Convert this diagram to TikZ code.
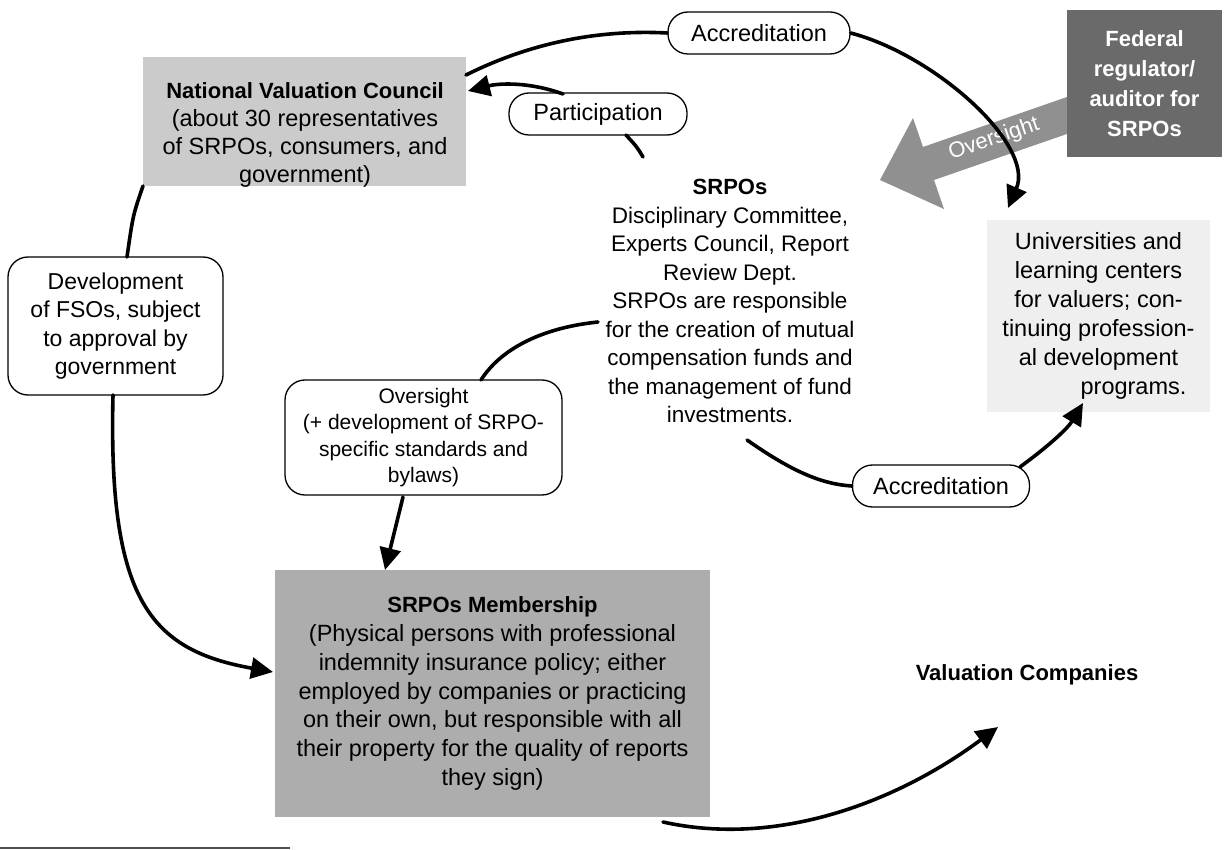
\documentclass[tikz,border=0pt]{standalone}
\usepackage{fontspec}
\setmainfont{Liberation Sans}
\usetikzlibrary{arrows.meta}
\definecolor{nvcgray}{HTML}{CBCBCB}
\definecolor{memgray}{HTML}{ADADAD}
\definecolor{fedgray}{HTML}{6A6A6A}
\definecolor{arrgray}{HTML}{909090}
\definecolor{unigray}{HTML}{EFEFEF}
\begin{document}
\begin{tikzpicture}[x=1pt,y=-1pt,
  conn/.style={line width=3.6pt,line cap=round},
  tipped/.style={-{Triangle[length=22pt,width=21pt]}},
  pill/.style={draw,line width=1.3pt,rounded corners=20pt,fill=white,minimum height=42pt,inner sep=0pt,font=\fontsize{23.5}{28}\selectfont},
  rbox/.style={draw,line width=1.3pt,rounded corners=20pt,fill=white,inner sep=0pt,align=center},
  plainbox/.style={inner sep=0pt,align=center},
  txt/.style={align=center,inner sep=0pt},
]
\useasboundingbox (0,0) rectangle (1224,850);

% big grey oversight arrow
\fill[arrgray] (1090,89) -- (923,147) -- (913,118) -- (880,180) -- (944,209) -- (934,180) -- (1090,126) -- cycle;
\node[txt,white,rotate=19,font=\fontsize{22}{26}\selectfont] (ovlabel) at (994,139) {Oversight};

% boxes
\node[plainbox,fill=fedgray,minimum width=155pt,minimum height=147pt,text=white,font=\fontsize{22}{30}\selectfont\bfseries] (fed) at (1144.5,83.5) {Federal\\regulator/\\auditor for\\SRPOs};

\node[plainbox,fill=nvcgray,minimum width=323pt,minimum height=129pt] (nvc) at (304.5,121.5) {};
\node[txt,font=\fontsize{23.5}{28.3}\selectfont] (nvctext) at (305,135) {{\fontsize{22}{28.3}\selectfont\bfseries National Valuation Council}\\(about 30 representatives\\of SRPOs, consumers, and\\government)};

\node[plainbox,fill=unigray,minimum width=223pt,minimum height=192pt,font=\fontsize{23.5}{29}\selectfont] (univ) at (1098.5,316) {Universities and\\learning centers\\for valuers; con-\\tinuing profession-\\al development\\\hspace*{70pt}programs.};

\node[plainbox,fill=memgray,minimum width=435pt,minimum height=247pt,font=\fontsize{23.5}{28.7}\selectfont] (memb) at (492.5,693.5) {{\fontsize{22}{28.7}\selectfont\bfseries SRPOs Membership}\\(Physical persons with professional\\indemnity insurance policy; either\\employed by companies or practicing\\on their own, but responsible with all\\their property for the quality of reports\\they sign)};

\node[rbox,minimum width=215pt,minimum height=138pt,font=\fontsize{23}{28.5}\selectfont] (fso) at (115.5,326) {Development\\of FSOs, subject\\to approval by\\government};

\node[rbox,minimum width=277pt,minimum height=115pt,font=\fontsize{21}{26.3}\selectfont] (over) at (423.5,437.5) {Oversight\\(+ development of SRPO-\\specific standards and\\bylaws)};

\node[txt,font=\fontsize{22.5}{28.5}\selectfont] (srpo) at (730,301) {{\fontsize{22}{28.5}\selectfont\bfseries SRPOs}\\Disciplinary Committee,\\Experts Council, Report\\Review Dept.\\SRPOs are responsible\\for the creation of mutual\\compensation funds and\\the management of fund\\investments.};

\node[txt,font=\fontsize{22}{28}\selectfont\bfseries] (vc) at (1027,675) {Valuation Companies};

\node[pill,minimum width=182pt] (acc1) at (759,33) {Accreditation};
\node[pill,minimum width=178pt] (part) at (598,114) {Participation};
\node[pill,minimum width=177pt] (acc2) at (941,486) {Accreditation};

% connector end points
\coordinate (nvcR) at (466,75);
\coordinate (univT) at (1008,208);
\coordinate (srpT) at (643,157);
\coordinate (partB) at (626,135);
\coordinate (partL) at (563,94);
\coordinate (nvcP) at (468,91);
\coordinate (srpB) at (747,440);
\coordinate (acc2R) at (1020,467);
\coordinate (univB) at (1083,403);
\coordinate (srpL) at (598,322);
\coordinate (overT) at (481,380);
\coordinate (overB) at (403,497);
\coordinate (membT) at (385,570);
\coordinate (nvcBL) at (143,186);
\coordinate (fsoT) at (127,257);
\coordinate (fsoB) at (113,395);
\coordinate (membL) at (273,672);
\coordinate (membBR) at (663,822);
\coordinate (vcT) at (998,727);

% connectors
\draw[conn] (nvcR) .. controls (540,38) and (610,30) .. (acc1.west);
\draw[conn,tipped] (acc1.east) .. controls (935,55) and (1035,145) .. (univT);
\draw[conn] (srpT) .. controls (637,147) .. (partB);
\draw[conn,tipped] (partL) .. controls (530,82) and (500,83) .. (nvcP);
\draw[conn] (srpB) .. controls (790,470) and (820,484) .. (acc2.west);
\draw[conn,tipped] (acc2R) .. controls (1050,445) and (1068,428) .. (univB);
\draw[conn] (srpL) .. controls (540,328) and (500,350) .. (overT);
\draw[conn,tipped] (overB) -- (membT);
\draw[conn] (nvcBL) .. controls (133,215) .. (fsoT);
\draw[conn,tipped] (fsoB) .. controls (108,600) and (150,650) .. (membL);
\draw[conn,tipped] (membBR) .. controls (780,848) and (900,800) .. (vcT);

% footnote rule
\coordinate (ruleL) at (0,848);
\coordinate (ruleR) at (290,848);
\draw[line width=1.2pt,black!70] (ruleL) -- (ruleR);
\end{tikzpicture}
\end{document}
